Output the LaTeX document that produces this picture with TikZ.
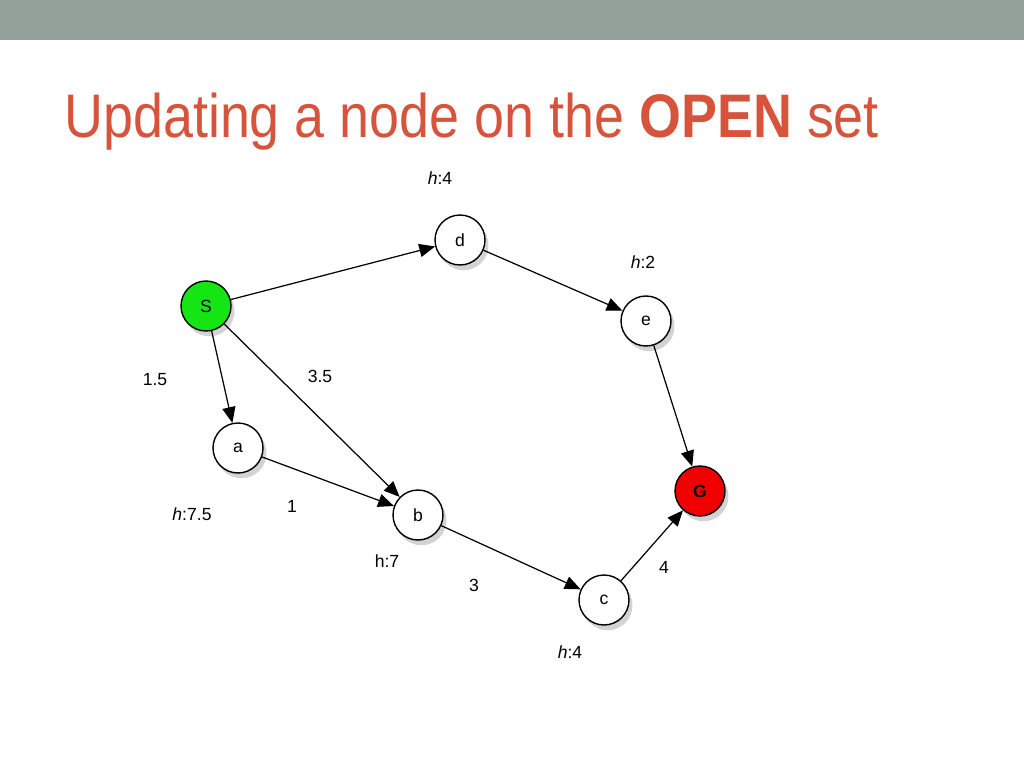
\documentclass[tikz,border=0pt]{standalone}
\usepackage{fontspec}
\setmainfont{Liberation Sans}
\newfontfamily\titlefont[FakeStretch=0.876]{Liberation Sans}
\usetikzlibrary{arrows.meta,shadows}
\definecolor{titlered}{RGB}{214,84,60}
\definecolor{bargray}{RGB}{147,160,153}
\definecolor{startgreen}{RGB}{20,230,20}
\definecolor{goalred}{RGB}{240,0,0}

\begin{document}
\begin{tikzpicture}[x=0.02cm,y=-0.02cm,
  st/.style={circle,draw,thick,fill=white,minimum size=1cm,inner sep=0pt,font=\normalsize,
    drop shadow={shadow xshift=2pt,shadow yshift=-3pt,opacity=0.35}},
  lab/.style={font=\normalsize},
  edge/.style={-{Triangle[length=9pt,width=7.5pt]},line width=0.7pt}]
\useasboundingbox (0,0) rectangle (1024,768);
\fill[bargray] (0,0) rectangle (1024,40);
\node[anchor=base west,text=titlered,font=\titlefont\fontsize{35}{40}\selectfont,inner sep=0pt] (title) at (64,137)
  {Updating a node on the \textbf{OPEN} set};
% states
\node[st,fill=startgreen] (S) at (206,306) {S};
\node[st] (d) at (460,240) {d};
\node[st] (e) at (646,321) {e};
\node[st] (a) at (238,448) {a};
\node[st] (b) at (418,515) {b};
\node[st] (c) at (604,600) {c};
\node[st,fill=goalred] (G) at (700,491) {\textbf{G}};
% arcs
\draw[edge] (S) -- (d);
\draw[edge] (d) -- (e);
\draw[edge] (e) -- (G);
\draw[edge] (S) -- (a);
\draw[edge] (S) -- (b);
\draw[edge] (a) -- (b);
\draw[edge] (b) -- (c);
\draw[edge] (c) -- (G);
% costs and heuristics
\node[lab] (hd) at (440,178) {\textit{h}:4};
\node[lab] (he) at (643,262) {\textit{h}:2};
\node[lab] (wsa) at (155,380) {1.5};
\node[lab] (wsb) at (320,376) {3.5};
\node[lab] (ha) at (192,514) {\textit{h}:7.5};
\node[lab] (wab) at (292,506) {1};
\node[lab] (hb) at (387,561) {h:7};
\node[lab] (wbc) at (474,585) {3};
\node[lab] (wcg) at (664,567) {4};
\node[lab] (hc) at (570,652) {\textit{h}:4};
\end{tikzpicture}
\end{document}
